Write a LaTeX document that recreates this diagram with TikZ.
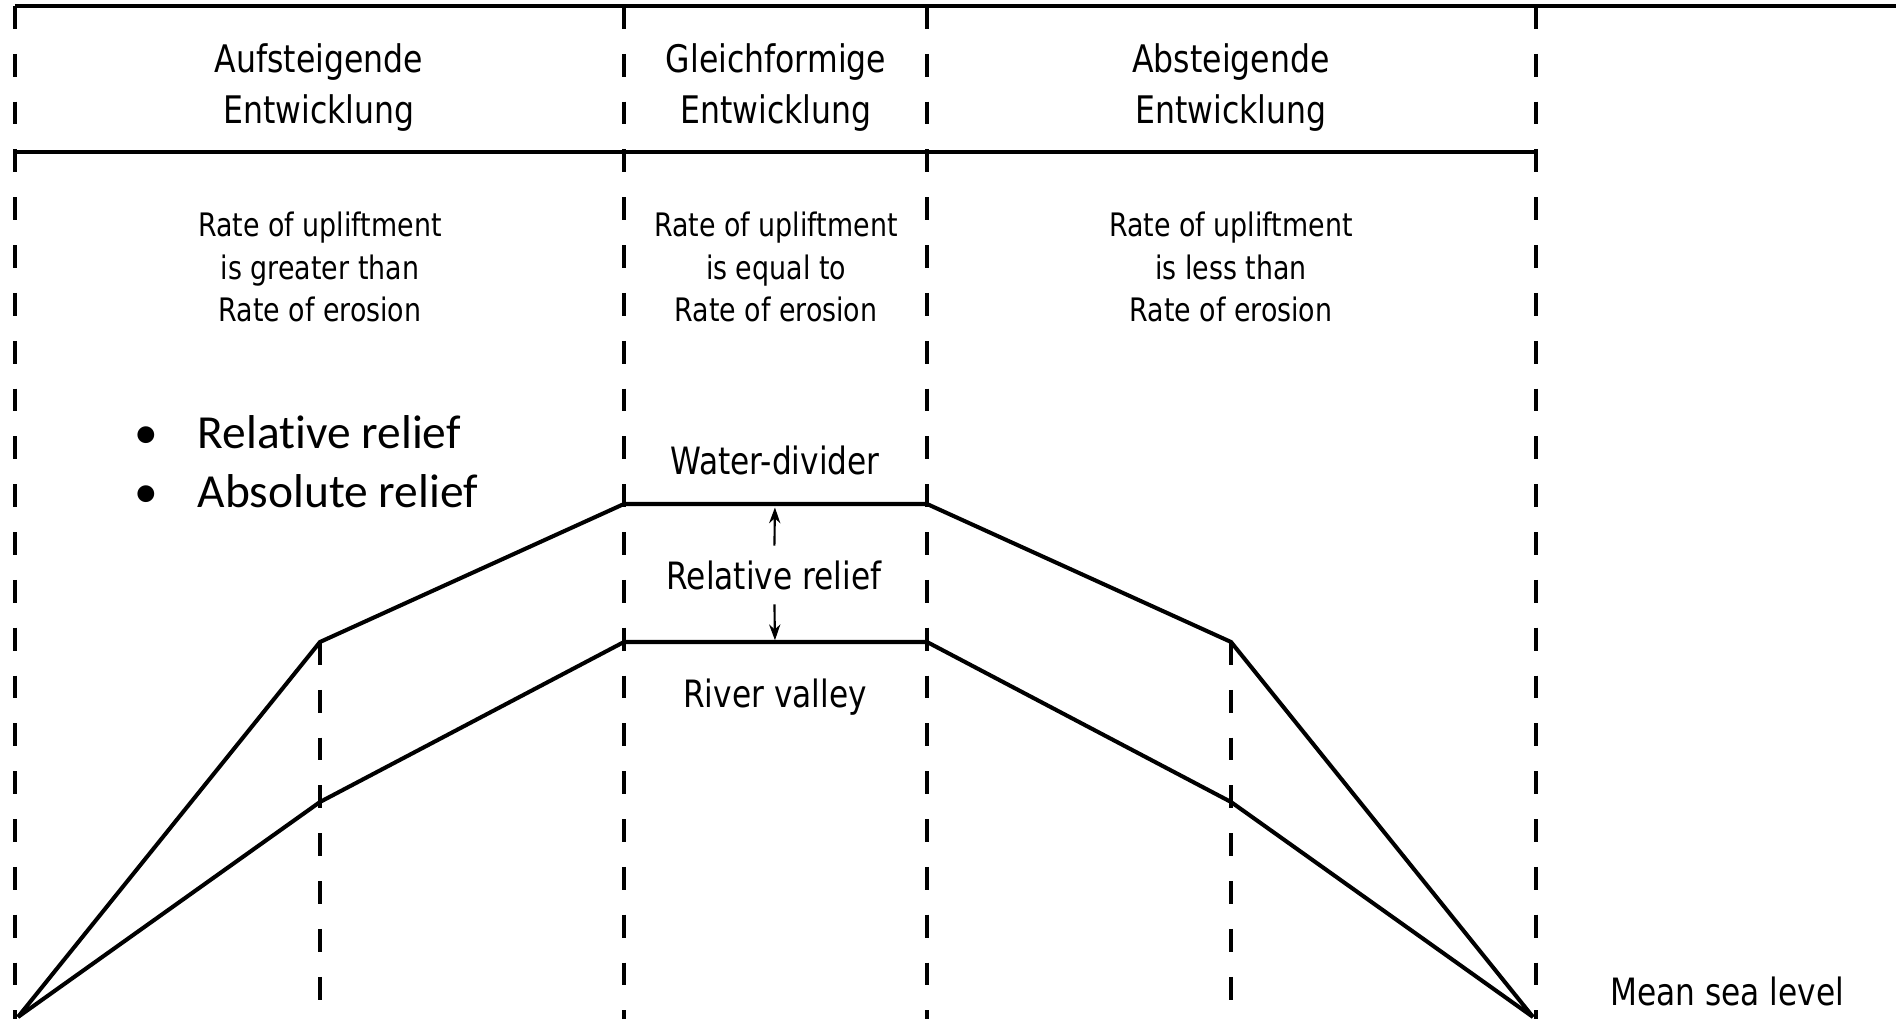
\documentclass[tikz,border=0pt]{standalone}
\usepackage{fontspec}
\setmainfont{DejaVu Sans}[FakeStretch=0.83]
\newfontfamily\slidefont{Carlito}[Ligatures=NoCommon]
\usetikzlibrary{arrows.meta}
\usetikzlibrary{positioning}
\tikzset{
    every node/.style={inner sep=0pt},
    phase label/.style={align=center,font=\fontsize{10.8}{14.5}\selectfont},
    rate label/.style={align=center,font=\fontsize{9.2}{12.2}\selectfont},
    level label/.style={font=\fontsize{10.7}{13}\selectfont},
    divider/.style={line width=0.9pt,dash pattern=on 6.5pt off 7.1pt},
    frame line/.style={line width=1.1pt},
    profile/.style={line width=1.15pt,line join=miter}
}

\begin{document}
\begin{tikzpicture}[
            x = 0.01cm, y = 0.01cm, % one unit per pixel of the slide
            > = {Stealth[length=4.5pt,width=3.2pt]}, % small arrow heads
            node distance = 0.3cm
        ]
        \useasboundingbox (0,0) rectangle (1896,1019);

        % frame and columns
        \draw[frame line] (15,1013) -- (1896,1013);
        \draw[frame line] (15,867) -- (1536,867);
        \foreach \x in {15,624,927,1536}
            \draw[divider] (\x,1013) -- (\x,0);

        % land profile
        \coordinate (shore left) at (18,2);
        \coordinate (shore right) at (1533,2);
        \coordinate (wa) at (320,377);
        \coordinate (wb) at (624,515);
        \coordinate (wc) at (927,515);
        \coordinate (wd) at (1231,377);
        \coordinate (va) at (320,217);
        \coordinate (vb) at (624,377);
        \coordinate (vc) at (927,377);
        \coordinate (vd) at (1231,217);

        \draw[divider] (wa) -- (wa |- 0,0);
        \draw[divider] (wd) -- (wd |- 0,0);

        \draw[profile] (shore left) -- (wa) -- (wb) -- (wc) -- (wd) -- (shore right);
        \draw[profile] (shore left) -- (va) -- (vb) -- (vc) -- (vd) -- (shore right);

        % column heads
        \node[phase label] (rise) at (319,931) {Aufsteigende\\Entwicklung};
        \node[phase label] (even) at (776,931) {Gleichformige\\Entwicklung};
        \node[phase label] (fall) at (1231,931) {Absteigende\\Entwicklung};

        \node[rate label] (rise rate) at (320,752) {Rate of upliftment\\is greater than\\Rate of erosion};
        \node[rate label] (even rate) at (776,752) {Rate of upliftment\\is equal to\\Rate of erosion};
        \node[rate label] (fall rate) at (1231,752) {Rate of upliftment\\is less than\\Rate of erosion};

        % relief between divide and valley
        \coordinate (crest) at (775,515);
        \coordinate (floor) at (775,377);
        \node[level label] (divide) [above=0.28cm of crest] {Water-divider};
        \node[level label] (valley) [below=0.36cm of floor] {River valley};
        \node[level label,inner ysep=4pt] (relief) at (774,444) {Relative relief};
        \draw[->,line width=0.6pt,shorten >=1pt] (relief) -- (crest);
        \draw[->,line width=0.6pt,shorten >=0.5pt] (relief) -- (floor);

        \node[level label] (sea) at (1727,28) {Mean sea level};

        \node[anchor=west,align=left,font=\slidefont\fontsize{13.5}{16.8}\selectfont] (points) at (134,557)
            {\makebox[17.9pt][l]{\textbullet}Relative relief\\\makebox[17.9pt][l]{\textbullet}Absolute relief};

  \end{tikzpicture}
\end{document}
